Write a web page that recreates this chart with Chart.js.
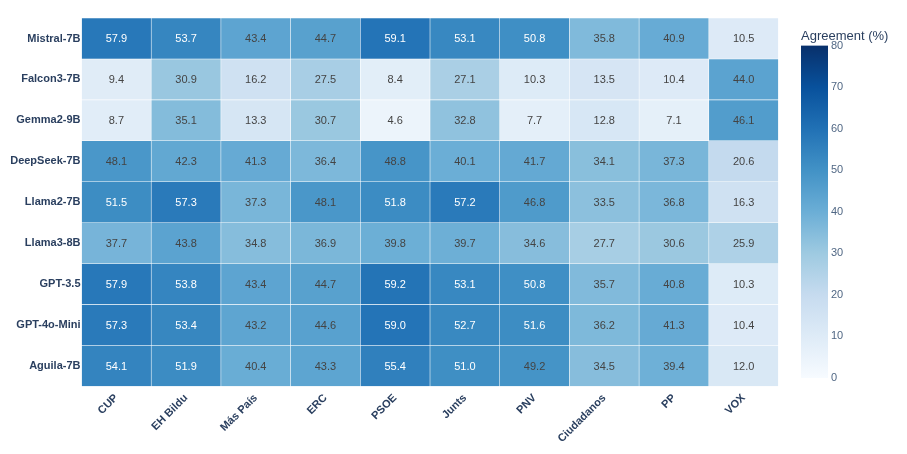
<!DOCTYPE html>
<html>
<head>
<meta charset="utf-8">
<script src="https://cdn.jsdelivr.net/npm/chart.js@4.4.1/dist/chart.umd.min.js"></script>
<style>
  html, body { margin: 0; padding: 0; background: #fff; }
  #wrap { position: relative; width: 907px; height: 454px; }
  #heat { position: absolute; left: 0; top: 0; }
  #bar { position: absolute; left: 801px; top: 0; }
</style>
</head>
<body>
<div id="wrap">
  <canvas id="heat" width="907" height="454"></canvas>
  <canvas id="bar" width="106" height="454"></canvas>
</div>
<script>
// Heatmap of model agreement with party positions

const models = ['Mistral-7B', 'Falcon3-7B', 'Gemma2-9B', 'DeepSeek-7B', 'Llama2-7B', 'Llama3-8B', 'GPT-3.5', 'GPT-4o-Mini', 'Aguila-7B'];
const parties = ['CUP', 'EH Bildu', 'Más País', 'ERC', 'PSOE', 'Junts', 'PNV', 'Ciudadanos', 'PP', 'VOX'];

const mistral7b  = [57.9, 53.7, 43.4, 44.7, 59.1, 53.1, 50.8, 35.8, 40.9, 10.5];
const falcon37b  = [9.4, 30.9, 16.2, 27.5, 8.4, 27.1, 10.3, 13.5, 10.4, 44.0];
const gemma29b   = [8.7, 35.1, 13.3, 30.7, 4.6, 32.8, 7.7, 12.8, 7.1, 46.1];
const deepseek7b = [48.1, 42.3, 41.3, 36.4, 48.8, 40.1, 41.7, 34.1, 37.3, 20.6];
const llama27b   = [51.5, 57.3, 37.3, 48.1, 51.8, 57.2, 46.8, 33.5, 36.8, 16.3];
const llama38b   = [37.7, 43.8, 34.8, 36.9, 39.8, 39.7, 34.6, 27.7, 30.6, 25.9];
const gpt35      = [57.9, 53.8, 43.4, 44.7, 59.2, 53.1, 50.8, 35.7, 40.8, 10.3];
const gpt4oMini  = [57.3, 53.4, 43.2, 44.6, 59.0, 52.7, 51.6, 36.2, 41.3, 10.4];
const aguila7b   = [54.1, 51.9, 40.4, 43.3, 55.4, 51.0, 49.2, 34.5, 39.4, 12.0];

const rows = [mistral7b, falcon37b, gemma29b, deepseek7b, llama27b, llama38b, gpt35, gpt4oMini, aguila7b];

const cbTicks = [0, 10, 20, 30, 40, 50, 60, 70, 80];
const zMin = 0, zMax = 80;

// plotly "Blues"
const blues = [
    [0.000, [247, 251, 255]],
    [0.125, [222, 235, 247]],
    [0.250, [198, 219, 239]],
    [0.375, [158, 202, 225]],
    [0.500, [107, 174, 214]],
    [0.625, [66, 146, 198]],
    [0.750, [33, 113, 181]],
    [0.875, [8, 81, 156]],
    [1.000, [8, 48, 107]]
];

function colorFor(v) {
    const t = Math.max(0, Math.min(1, (v - zMin) / (zMax - zMin)));
    for (let i = 1; i < blues.length; i++) {
        if (t <= blues[i][0]) {
            const [t0, c0] = blues[i - 1];
            const [t1, c1] = blues[i];
            const f = (t - t0) / (t1 - t0);
            const c = c0.map((a, k) => Math.round(a + (c1[k] - a) * f));
            return `rgb(${c[0]},${c[1]},${c[2]})`;
        }
    }
    return 'rgb(8,48,107)';
}

const FONT = "'Liberation Sans', Arial, sans-serif";
const INK = '#2a3f5f';

// one dataset per party column, stacked left to right
const datasets = parties.map((p, j) => ({
    label: p,
    data: models.map(() => 1),
    backgroundColor: rows.map(r => colorFor(r[j])),
    borderColor: 'rgba(255,255,255,0.1)',
    borderWidth: 0.6,
    borderSkipped: false,
    barPercentage: 1,
    categoryPercentage: 1
}));

const cellText = {
    id: 'cellText',
    afterDatasetsDraw(chart) {
        const ctx = chart.ctx;
        ctx.save();
        ctx.font = `11px ${FONT}`;
        ctx.textAlign = 'center';
        ctx.textBaseline = 'middle';
        chart.data.datasets.forEach((ds, j) => {
            chart.getDatasetMeta(j).data.forEach((el, i) => {
                const v = rows[i][j];
                const pt = el.getCenterPoint();
                ctx.fillStyle = v > 50 ? '#ffffff' : '#444444';
                ctx.fillText(v.toFixed(1), pt.x, pt.y + 0.5);
            });
        });
        ctx.restore();
    }
};

new Chart(document.getElementById('heat'), {
    type: 'bar',
    data: { labels: models, datasets },
    options: {
        indexAxis: 'y',
        responsive: false,
        animation: false,
        events: [],
        layout: { padding: { top: 18, right: 128.5, left: 0, bottom: 0 } },
        plugins: { legend: { display: false }, tooltip: { enabled: false } },
        scales: {
            x: {
                type: 'linear',
                stacked: true,
                min: 0,
                max: parties.length,
                grid: { display: false, drawTicks: false },
                border: { display: false },
                afterBuildTicks(axis) {
                    axis.ticks = parties.map((p, i) => ({ value: i + 0.5 }));
                },
                afterFit(axis) { axis.height = 67.5; },
                ticks: {
                    autoSkip: false,
                    minRotation: 45,
                    maxRotation: 45,
                    padding: 5,
                    color: INK,
                    font: { family: FONT, size: 11, weight: 'bold' },
                    callback: (value, index) => parties[index]
                }
            },
            y: {
                type: 'category',
                stacked: true,
                grid: { display: false, drawTicks: false },
                border: { display: false },
                afterFit(axis) { axis.width = 81.5; },
                ticks: {
                    padding: 1,
                    color: INK,
                    font: { family: FONT, size: 11, weight: 'bold' }
                }
            }
        }
    },
    plugins: [cellText]
});

// colour bar
new Chart(document.getElementById('bar'), {
    type: 'bar',
    data: {
        labels: [''],
        datasets: [{
            data: [[zMin, zMax]],
            barPercentage: 1,
            categoryPercentage: 1,
            borderWidth: 0,
            backgroundColor(c) {
                const chart = c.chart;
                if (!chart.chartArea) return 'rgba(0,0,0,0)';
                const ys = chart.scales.y;
                const g = chart.ctx.createLinearGradient(0, ys.getPixelForValue(zMin), 0, ys.getPixelForValue(zMax));
                blues.forEach(([t, col]) => g.addColorStop(t, `rgb(${col[0]},${col[1]},${col[2]})`));
                return g;
            }
        }]
    },
    options: {
        responsive: false,
        animation: false,
        events: [],
        layout: { padding: { top: 29, left: 0, right: 0, bottom: 76 } },
        plugins: {
            legend: { display: false },
            tooltip: { enabled: false },
            title: {
                display: true,
                text: 'Agreement (%)',
                align: 'start',
                color: INK,
                font: { family: FONT, size: 13, weight: 'normal' },
                padding: { top: 0, bottom: 1 }
            }
        },
        scales: {
            x: { display: false },
            y: {
                position: 'right',
                min: zMin,
                max: zMax,
                grid: { display: false, drawTicks: false },
                border: { display: false },
                afterFit(axis) { axis.width = 79; },
                afterBuildTicks(axis) {
                    axis.ticks = cbTicks.map(v => ({ value: v }));
                },
                ticks: {
                    padding: 3,
                    color: '#506784',
                    font: { family: FONT, size: 11 }
                }
            }
        }
    }
});
</script>
</body>
</html>
